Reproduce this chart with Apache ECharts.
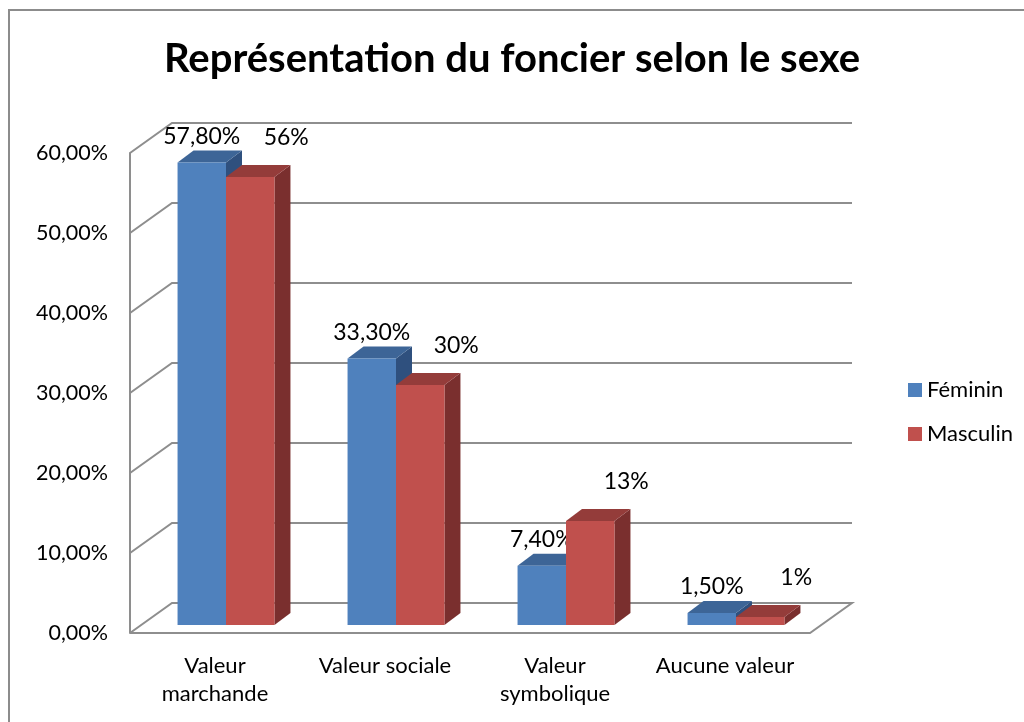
<!DOCTYPE html>
<html>
<head>
<meta charset="utf-8">
<script src="https://cdn.jsdelivr.net/npm/echarts@6/dist/echarts.min.js"></script>
<style>
  html, body { margin: 0; padding: 0; background: #fff; }
  #chart { width: 1024px; height: 722px; }
</style>
</head>
<body>
<div id="chart"></div>
<script>
const categories = ['Valeur\nmarchande', 'Valeur sociale', 'Valeur\nsymbolique', 'Aucune valeur']
const feminin = [57.8, 33.3, 7.4, 1.5]
const masculin = [56, 30, 13, 1]
const yTicks = [0, 10, 20, 30, 40, 50, 60]

const chart = echarts.init(document.getElementById('chart'))

// profondeur du "mur" et des barres
const WALL_DX = 42, WALL_DY = -30
const BAR_SHIFT_X = 11, BAR_SHIFT_Y = -8
const BAR_DX = 16, BAR_DY = -12
const FONT = 'Lato'

const pct2 = v => v.toFixed(2).replace('.', ',') + '%'
const pct0 = v => Math.round(v) + '%'

const wallRender = (params, api) => {
  const cs = params.coordSys
  const v = api.value(1)
  const y = api.coord([0, v])[1]
  const x0 = cs.x, x1 = cs.x + cs.width
  let pts = [[x0, y], [x0 + WALL_DX, y + WALL_DY], [x1 + WALL_DX, y + WALL_DY]]
  if (v === 0) pts = pts.concat([[x1, y], [x0, y]])
  return {
    type: 'polyline',
    shape: { points: pts },
    style: { stroke: '#8e8e8e', lineWidth: 2, fill: null }
  }
}

const barRender = (side, colors, fmt, labelDx, labelDy) => (params, api) => {
  const cat = api.value(0), v = api.value(1)
  const base = api.coord([cat, 0])
  const top = api.coord([cat, v])
  const bw = api.size([1, 0])[0] * 0.285
  const x0 = base[0] + BAR_SHIFT_X + (side === 0 ? -bw : 0)
  const x1 = x0 + bw
  const yb = base[1] + BAR_SHIFT_Y
  const yt = top[1] + BAR_SHIFT_Y
  return {
    type: 'group',
    children: [
      {
        type: 'polygon',
        shape: { points: [[x1, yt], [x1 + BAR_DX, yt + BAR_DY], [x1 + BAR_DX, yb + BAR_DY], [x1, yb]] },
        style: { fill: colors[2] }
      },
      {
        type: 'polygon',
        shape: { points: [[x0, yt], [x0 + BAR_DX, yt + BAR_DY], [x1 + BAR_DX, yt + BAR_DY], [x1, yt]] },
        style: { fill: colors[1] }
      },
      {
        type: 'rect',
        shape: { x: x0, y: yt, width: bw, height: yb - yt },
        style: { fill: colors[0] }
      },
      {
        type: 'text',
        style: {
          text: fmt(v),
          x: (x0 + x1) / 2 + labelDx,
          y: yt + labelDy,
          align: 'center',
          verticalAlign: 'middle',
          fontFamily: FONT,
          fontSize: 23,
          fill: '#000'
        }
      }
    ]
  }
}

const option = {
  animation: false,
  backgroundColor: '#fff',
  graphic: [
    {
      type: 'rect',
      shape: { x: 9, y: 10, width: 1040, height: 740 },
      style: { fill: null, stroke: '#8c8c8c', lineWidth: 2 },
      z: -10
    }
  ],
  title: {
    text: 'Représentation du foncier selon le sexe',
    left: 'center',
    top: 34,
    textStyle: { fontFamily: FONT, fontWeight: 'bold', fontSize: 40, color: '#000' }
  },
  legend: {
    orient: 'vertical',
    left: 903,
    top: 374,
    itemWidth: 14,
    itemHeight: 14,
    itemGap: 22,
    icon: 'rect',
    textStyle: { fontFamily: FONT, fontSize: 22, color: '#000' },
    data: ['Féminin', 'Masculin']
  },
  grid: { left: 130, right: 214, top: 153, bottom: 89 },
  xAxis: {
    type: 'category',
    data: categories,
    axisLine: { show: false },
    axisTick: { show: false },
    axisLabel: {
      interval: 0,
      margin: 19,
      fontFamily: FONT,
      fontSize: 22,
      lineHeight: 28,
      color: '#000'
    }
  },
  yAxis: {
    type: 'value',
    min: 0,
    max: 60,
    interval: 10,
    splitLine: { show: false },
    axisTick: { show: false },
    axisLine: { show: true, lineStyle: { color: '#8e8e8e', width: 2 } },
    axisLabel: {
      margin: 22,
      fontFamily: FONT,
      fontSize: 21.5,
      color: '#000',
      formatter: pct2
    }
  },
  series: [
    {
      name: 'walls',
      type: 'custom',
      z: 1,
      silent: true,
      renderItem: wallRender,
      data: yTicks.map(v => [0, v])
    },
    {
      name: 'Féminin',
      type: 'custom',
      z: 2,
      itemStyle: { color: '#4F81BD' },
      renderItem: barRender(0, ['#4F81BD', '#3D6597', '#2F507E'], pct2, 0, -26),
      data: feminin.map((v, i) => [i, v])
    },
    {
      name: 'Masculin',
      type: 'custom',
      z: 3,
      itemStyle: { color: '#C0504D' },
      renderItem: barRender(1, ['#C0504D', '#943C3A', '#7A2F2E'], pct0, 36, -39),
      data: masculin.map((v, i) => [i, v])
    }
  ]
}

chart.setOption(option)
</script>
</body>
</html>
